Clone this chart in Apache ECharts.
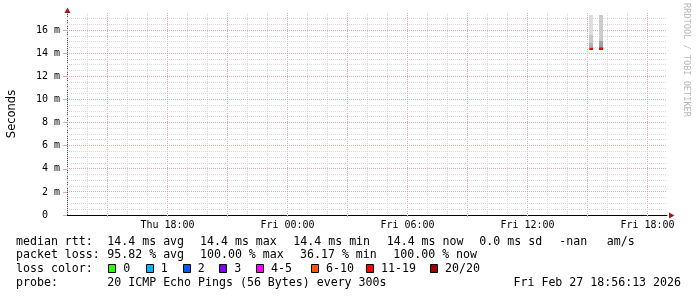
<!DOCTYPE html>
<html>
<head>
<meta charset="utf-8">
<script src="https://cdn.jsdelivr.net/npm/echarts@6/dist/echarts.min.js"></script>
<style>
html,body{margin:0;padding:0;background:#fff;}
#chart{width:697px;height:297px;}
</style>
</head>
<body>
<div id="chart"></div>
<script>
// ---------------- data ----------------
const rangeStart = '2026-02-26 12:58:30';   // Thu
const rangeEnd   = '2026-02-27 18:58:30';   // Fri
const yMin = 0, yMax = 17.5;                // milliseconds
const yTickLabels = [0, 2, 4, 6, 8, 10, 12, 14, 16];
const xLabelTimes = ['2026-02-26 18:00', '2026-02-27 00:00', '2026-02-27 06:00', '2026-02-27 12:00', '2026-02-27 18:00'];

// smoke (sorted ping rtt bands) per probe slot
const smokeStart  = ['2026-02-27 15:05', '2026-02-27 15:35'];
const smokeEnd    = ['2026-02-27 15:17', '2026-02-27 15:47'];
const smokeLevels = [
  [14.4, 14.55, 14.9, 15.6, 17.33],
  [14.4, 14.55, 15.05, 17.33]
];
// median rtt segments
const medianStart = ['2026-02-27 15:05', '2026-02-27 15:08', '2026-02-27 15:35'];
const medianEnd   = ['2026-02-27 15:08', '2026-02-27 15:17', '2026-02-27 15:47'];
const medianValue = [14.4, 14.4, 14.4];
const medianLossClass = [5, 6, 6];   // index into lossLabels

const lossLabels = ['0', '1', '2', '3', '4-5', '6-10', '11-19', '20/20'];
const medianStats = ['14.4 ms avg', '14.4 ms max', '14.4 ms min', '14.4 ms now', '0.0 ms sd', '-nan', 'am/s'];
const lossStats = ['95.82 % avg', '100.00 % max', '36.17 % min', '100.00 % now'];
const probeText = '20 ICMP Echo Pings (56 Bytes) every 300s';
const stampText = 'Fri Feb 27 18:56:13 2026';

// ---------------- styles ----------------
const lossColors = ['#26ff00', '#00b8ff', '#0059ff', '#7e00ff', '#ff00ff', '#ff5500', '#ff0000', '#a10000'];
const smokeShades = [
  ['#9c9c9c', '#b2b2b2', '#c8c8c8', '#dddddd'],
  ['#707070', '#a0a0a0', '#cccccc']
];
const MONO = '"DejaVu Sans Mono", monospace';
const minorGrid = '#d8d8d8';
const majorGrid = '#dcaaaa';
const arrowColor = '#a01818';

function t(s) {
  const m = s.match(/(\d+)-(\d+)-(\d+) (\d+):(\d+)(?::(\d+))?/);
  return Date.UTC(+m[1], +m[2] - 1, +m[3], +m[4], +m[5], +(m[6] || 0));
}
const T0 = t(rangeStart), T1 = t(rangeEnd);
const H = 3600 * 1000;
const days = ['Sun', 'Mon', 'Tue', 'Wed', 'Thu', 'Fri', 'Sat'];
function fmt(v) {
  const d = new Date(v);
  const p = n => String(n).padStart(2, '0');
  return days[d.getUTCDay()] + ' ' + p(d.getUTCHours()) + ':' + p(d.getUTCMinutes());
}

// grid / tick positions
const gridData = [];   // [value, kind] kind: 0 x-minor, 1 x-major, 2 y-minor, 3 y-major
const threeHourTicks = [];
for (let v = Math.ceil(T0 / H) * H; v < T1; v += H) {
  const major = new Date(v).getUTCHours() % 3 === 0;
  gridData.push([v, major ? 1 : 0]);
  if (major) threeHourTicks.push(v);
}
for (let v = 0.5; v < yMax; v += 0.5) gridData.push([v, v % 2 === 0 ? 3 : 2]);
const labelTicks = xLabelTimes.map(t);

// series data
const smokeData = [];
smokeLevels.forEach((lv, b) => {
  for (let i = 0; i < lv.length - 1; i++) {
    smokeData.push({ value: [t(smokeStart[b]), t(smokeEnd[b]), lv[i], lv[i + 1]], itemStyle: { color: smokeShades[b][i] } });
  }
});
const medianData = medianValue.map((v, i) => ({
  value: [t(medianStart[i]), t(medianEnd[i]), v], itemStyle: { color: lossColors[medianLossClass[i]] }
}));

const chart = echarts.init(document.getElementById('chart'), null, { renderer: 'canvas' });

const baseX = { type: 'value', min: T0, max: T1, position: 'bottom', gridIndex: 0, offset: 0, splitLine: { show: false } };
const baseY = { type: 'value', min: yMin, max: yMax, position: 'left', gridIndex: 0, offset: 0, splitLine: { show: false } };

// legend text graphics
const graphics = [];
function txt(x, y, s, opt) {
  graphics.push({
    type: 'text', x: x, y: y, silent: true,
    style: Object.assign({ text: s, font: '11.6px ' + MONO, fill: '#000', verticalAlign: 'middle', align: 'left' }, opt || {})
  });
}
const rowY = [241.5, 255.3, 269, 283.3];
txt(16, rowY[0], 'median rtt:');
[107.3, 200, 293.3, 386.7, 479.3, 559.3, 606.7].forEach((x, i) => txt(x, rowY[0], medianStats[i]));
txt(16, rowY[1], 'packet loss:');
[107.3, 200, 300, 393.3].forEach((x, i) => txt(x, rowY[1], lossStats[i]));
txt(16, rowY[2], 'loss color:');
[108.3, 145.7, 182.7, 219.3, 256, 311, 366, 430].forEach((x, i) => {
  graphics.push({ type: 'rect', silent: true, shape: { x: Math.round(x) + 0.5, y: 264.5, width: 7, height: 8 },
    style: { fill: lossColors[i], stroke: '#000', lineWidth: 1 } });
  txt(x + 15, rowY[2], lossLabels[i]);
});
txt(16, rowY[3], 'probe:');
txt(107.3, rowY[3], probeText);
txt(681, rowY[3], stampText, { align: 'right' });
// watermark
graphics.push({ type: 'text', silent: true, x: 686, y: 60, rotation: -Math.PI / 2,
  style: { text: 'RRDTOOL / TOBI OETIKER', font: '8.6px ' + MONO, fill: '#b8b8b8', align: 'center', verticalAlign: 'middle' } });
// axis arrows
graphics.push({ type: 'polygon', silent: true, z: 100, shape: { points: [[67.5, 7.5], [64.5, 13], [70.5, 13]] }, style: { fill: arrowColor } });
graphics.push({ type: 'polygon', silent: true, z: 100, shape: { points: [[674.5, 215.5], [669, 212.5], [669, 218.5]] }, style: { fill: arrowColor } });

chart.setOption({
  animation: false,
  backgroundColor: '#ffffff',
  grid: { left: 67, top: 13, width: 600, height: 202, containLabel: false, outerBoundsMode: 'none' },
  xAxis: [
    Object.assign({}, baseX, {
      axisLine: { show: true, lineStyle: { color: '#000', width: 1 } },
      axisTick: { show: true, length: 2, customValues: threeHourTicks, lineStyle: { color: majorGrid } },
      axisLabel: { show: false }
    }),
    Object.assign({}, baseX, {
      axisLine: { show: false },
      axisTick: { show: false, customValues: labelTicks },
      axisLabel: { show: true, customValues: labelTicks, formatter: v => fmt(v), margin: 5,
        fontFamily: MONO, fontSize: 10, color: '#000' }
    })
  ],
  yAxis: [
    Object.assign({}, baseY, {
      name: 'Seconds', nameLocation: 'middle', nameGap: 49, nameRotate: 90,
      nameTextStyle: { fontFamily: '"DejaVu Sans", sans-serif', fontSize: 11.5, color: '#000' },
      axisLine: { show: true, lineStyle: { color: '#555', width: 1 } },
      axisTick: { show: true, length: 4, customValues: yTickLabels, lineStyle: { color: majorGrid } },
      axisLabel: { show: true, customValues: yTickLabels, margin: 7, fontFamily: MONO, fontSize: 10, color: '#000',
        formatter: v => v === 0 ? '0  ' : v + ' m' }
    })
  ],
  graphic: graphics,
  series: [
    {
      type: 'custom', name: 'grid', xAxisIndex: 0, yAxisIndex: 0, data: gridData, z: 1, silent: true,
      renderItem: function (params, api) {
        const v = api.value(0), kind = api.value(1);
        const cs = params.coordSys;
        const color = (kind === 1 || kind === 3) ? majorGrid : minorGrid;
        if (kind < 2) {
          const x = Math.round(api.coord([v, yMin])[0] - 0.5) + 0.5;
          return { type: 'line', z2: kind, shape: { x1: x, y1: cs.y, x2: x, y2: cs.y + cs.height },
            style: { stroke: color, lineWidth: 1, lineDash: [1, 1] } };
        }
        const y = Math.round(api.coord([T0, v])[1] - 0.5) + 0.5;
        return { type: 'line', z2: kind, shape: { x1: cs.x, y1: y, x2: cs.x + cs.width, y2: y },
          style: { stroke: color, lineWidth: 1, lineDash: [1, 1] } };
      }
    },
    {
      type: 'custom', name: 'smoke', xAxisIndex: 0, yAxisIndex: 0, data: smokeData, z: 2,
      renderItem: function (params, api) {
        const p1 = api.coord([api.value(0), api.value(3)]);
        const p2 = api.coord([api.value(1), api.value(2)]);
        const x = Math.round(p1[0]), y = Math.round(p1[1]);
        return { type: 'rect', shape: { x: x, y: y, width: Math.round(p2[0]) - x, height: Math.round(p2[1]) - y },
          style: { fill: api.visual('color') } };
      }
    },
    {
      type: 'custom', name: 'median', xAxisIndex: 0, yAxisIndex: 0, data: medianData, z: 3,
      renderItem: function (params, api) {
        const p1 = api.coord([api.value(0), api.value(2)]);
        const p2 = api.coord([api.value(1), api.value(2)]);
        const x = Math.round(p1[0]), y = Math.round(p1[1] - 1);
        return { type: 'rect', shape: { x: x, y: y, width: Math.round(p2[0]) - x, height: 2 },
          style: { fill: api.visual('color') } };
      }
    }
  ]
});
</script>
</body>
</html>
